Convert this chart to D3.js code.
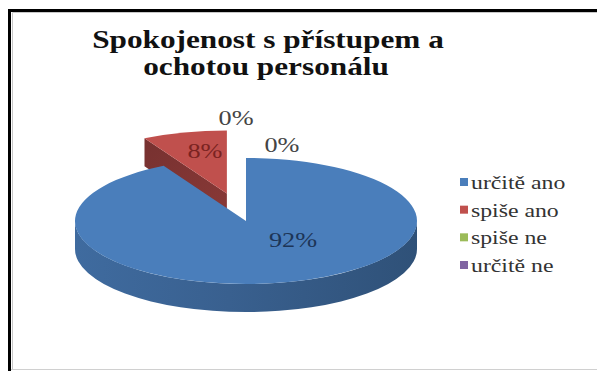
<!DOCTYPE html>
<html>
<head>
<meta charset="utf-8">
<script src="https://cdn.jsdelivr.net/npm/d3@7"></script>
</head>
<body style="margin:0;background:#fff">
<svg id="chart" width="597" height="371" style="display:block"></svg>
<script>
// Survey answers: satisfaction with staff approach and willingness
const titleLines = ["Spokojenost s přístupem a", "ochotou personálu"];
const categories = ["určitě ano", "spiše ano", "spiše ne", "určitě ne"];
const values = [92, 8, 0, 0];
const colors = ["#4a7ebb", "#c0504d", "#9bbb59", "#8064a2"];

// Presentation settings
const W = 597, H = 371;
const FONT = "Liberation Serif";
const pieBox = { cx: 246, cy: 221, rx: 171, ry: 63, depth: 28 };
const explode = [0, 0.45, 0, 0];          // pull-out of each slice, in radius units
// label anchors in pie units (x / rx, y / ry from the centre)
const labelAnchor = [[0.275, 0.30], [-0.24, -1.11], [-0.058, -1.63], [0.21, -1.21]];
const labelColor = ["#1d3557", "#7a2321", "#444", "#444"];
const stretch = 1.25;                     // horizontal text stretch

const svg = d3.select("#chart");
const defs = svg.append("defs");

// chart frame
svg.append("rect").attr("x", 0).attr("y", 0).attr("width", W).attr("height", H).attr("fill", "#fff");
svg.append("path").attr("d", `M9.5,${H} V10.5 H${W}`).attr("fill", "none").attr("stroke", "#000").attr("stroke-width", 3);
svg.append("path").attr("d", `M12.5,${H - 2} V12.5 H${W}`).attr("fill", "none").attr("stroke", "#c8c8c8").attr("stroke-width", 1);
svg.append("line").attr("x1", 11).attr("x2", W).attr("y1", 369.5).attr("y2", 369.5).attr("stroke", "#d0d0d0");

// text widened with textLength rather than a transform
function stretchedText(g, str, x, y, size, opts = {}) {
  const t = g.append("text")
    .attr("x", x).attr("y", y)
    .attr("font-family", FONT)
    .style("font-family", `"${FONT}"`)
    .attr("font-size", size)
    .attr("text-anchor", opts.anchor || "start")
    .attr("fill", opts.fill || "#000")
    .text(str);
  if (opts.weight) t.attr("font-weight", opts.weight);
  const natural = t.node().getComputedTextLength();
  t.attr("textLength", natural * stretch).attr("lengthAdjust", "spacingAndGlyphs");
  return t;
}

// title
const tg = svg.append("g");
stretchedText(tg, titleLines[0], 268, 48, 25, { anchor: "middle", weight: "bold", fill: "#111" });
stretchedText(tg, titleLines[1], 266, 75, 25, { anchor: "middle", weight: "bold", fill: "#111" });

// 3D pie geometry
const total = d3.sum(values);
const arcs = d3.pie().sort(null).value(d => d)(values);
const { cx, cy, rx, ry, depth } = pieBox;

function pt(a, off, z = 0) {
  return [cx + off[0] + rx * Math.sin(a), cy + off[1] - ry * Math.cos(a) + z];
}

function shade(c, k) { return d3.color(c).darker(k).formatHex(); }

const slices = arcs.map((a, i) => {
  const mid = (a.startAngle + a.endAngle) / 2;
  const off = [explode[i] * rx * Math.sin(mid), -explode[i] * ry * Math.cos(mid)];
  return { ...a, i, mid, off };
}).filter(s => s.endAngle - s.startAngle > 1e-6);

// draw back-most slices first
slices.sort((a, b) => (cy + a.off[1] - ry * Math.cos(a.mid) * 0.5) - (cy + b.off[1] - ry * Math.cos(b.mid) * 0.5));

const pg = svg.append("g");

slices.forEach(s => {
  const c = colors[s.i];
  const g = pg.append("g");
  const center = [cx + s.off[0], cy + s.off[1]];

  // side-wall gradient
  const gid = "wall" + s.i;
  const grad = defs.append("linearGradient").attr("id", gid)
    .attr("gradientUnits", "userSpaceOnUse")
    .attr("x1", cx + s.off[0] - rx).attr("x2", cx + s.off[0] + rx).attr("y1", 0).attr("y2", 0);
  grad.append("stop").attr("offset", 0).attr("stop-color", shade(c, 0.45));
  grad.append("stop").attr("offset", 0.45).attr("stop-color", shade(c, 0.75));
  grad.append("stop").attr("offset", 1).attr("stop-color", shade(c, 1.25));

  // cut faces facing the viewer
  [[s.startAngle, s.startAngle - Math.PI / 2], [s.endAngle, s.endAngle + Math.PI / 2]].forEach(([a, n]) => {
    if (Math.cos(n) < -0.01 && s.endAngle - s.startAngle < 2 * Math.PI - 1e-6) {
      const p0 = pt(a, s.off), p1 = pt(a, s.off, depth);
      const fid = "face" + s.i + "_" + Math.round(a * 1000);
      const fg = defs.append("linearGradient").attr("id", fid)
        .attr("gradientUnits", "userSpaceOnUse")
        .attr("x1", p0[0]).attr("y1", p0[1]).attr("x2", center[0]).attr("y2", center[1] + depth);
      fg.append("stop").attr("offset", 0).attr("stop-color", shade(c, 1.35));
      fg.append("stop").attr("offset", 1).attr("stop-color", shade(c, 0.95));
      g.append("path")
        .attr("d", `M${center} L${p0} L${p1} L${center[0]},${center[1] + depth} Z`)
        .attr("fill", `url(#${fid})`);
    }
  });

  // outer wall on the front half
  const b0 = Math.max(s.startAngle, Math.PI / 2), b1 = Math.min(s.endAngle, 3 * Math.PI / 2);
  if (b1 > b0) {
    const q0 = pt(b0, s.off), q1 = pt(b1, s.off), q2 = pt(b1, s.off, depth), q3 = pt(b0, s.off, depth);
    g.append("path")
      .attr("d", `M${q0} A${rx},${ry} 0 0 1 ${q1} L${q2} A${rx},${ry} 0 0 0 ${q3} Z`)
      .attr("fill", `url(#${gid})`);
  }

  // top face
  const t0 = pt(s.startAngle, s.off), t1 = pt(s.endAngle, s.off);
  const large = s.endAngle - s.startAngle > Math.PI ? 1 : 0;
  g.append("path")
    .attr("d", `M${center} L${t0} A${rx},${ry} 0 ${large} 1 ${t1} Z`)
    .attr("fill", c);
});

// data labels
const lg = svg.append("g");
arcs.forEach((a, i) => {
  const pct = Math.round(values[i] / total * 100) + "%";
  const x = cx + labelAnchor[i][0] * rx;
  const y = cy + labelAnchor[i][1] * ry;
  stretchedText(lg, pct, x, y + 7, 21, { anchor: "middle", fill: labelColor[i] });
});

// legend
const legend = svg.append("g");
const rowY = d3.scalePoint().domain(categories).range([182, 265]);
categories.forEach((name, i) => {
  const y = rowY(name);
  legend.append("rect").attr("x", 460).attr("y", y - 4).attr("width", 8).attr("height", 8).attr("fill", colors[i]);
  stretchedText(legend, name, 471, y + 7, 19, { fill: "#333" });
});
</script>
</body>
</html>
